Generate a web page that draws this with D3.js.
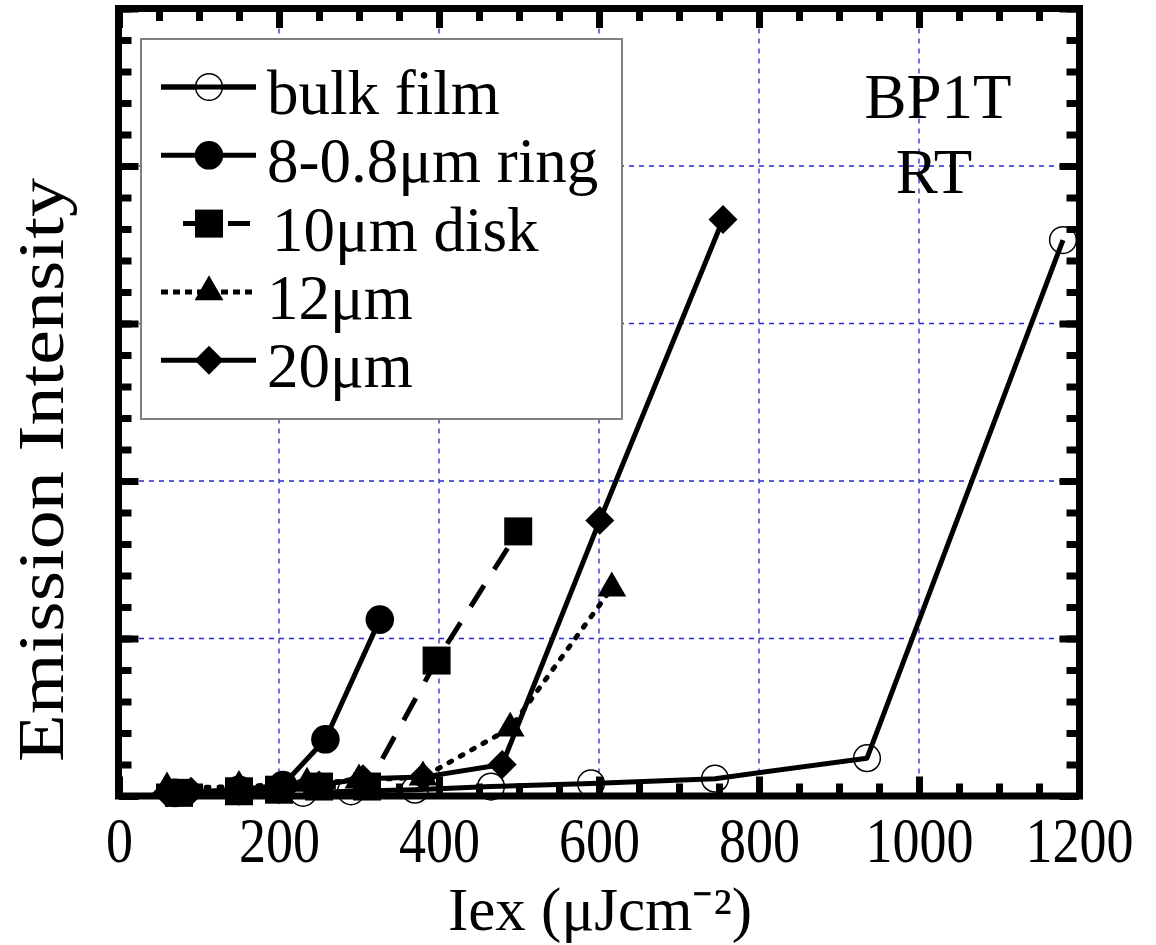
<!DOCTYPE html>
<html>
<head>
<meta charset="utf-8">
<script src="https://cdn.jsdelivr.net/npm/d3@7"></script>
<style>
  body { margin: 0; background: #fff; }
  svg { display: block; font-family: "Liberation Serif", "Times New Roman", serif; }
</style>
</head>
<body>
<svg id="chart" width="1156" height="945"></svg>
<script>
// excitation intensity (uJ/cm2) and emission intensity (arb. units)
var bulkX = [230, 290, 370, 465, 590, 745, 935, 1180]
var bulkY = [0.02, 0.03, 0.04, 0.06, 0.08, 0.11, 0.24, 3.53]

var ringX = [70, 150, 205, 258, 326]
var ringY = [0.02, 0.04, 0.07, 0.36, 1.12]

var diskX = [75, 150, 200, 250, 310, 397, 499]
var diskY = [0.02, 0.03, 0.04, 0.06, 0.06, 0.86, 1.68]

var d12X = [60, 150, 235, 300, 380, 489, 616]
var d12Y = [0.05, 0.06, 0.08, 0.10, 0.12, 0.43, 1.32]

var d20X = [60, 90, 150, 200, 250, 305, 380, 479, 601, 755]
var d20Y = [0.02, 0.03, 0.03, 0.04, 0.07, 0.11, 0.12, 0.20, 1.75, 3.66]

var legendNames = ["bulk film", "8-0.8\u03bcm ring", "10\u03bcm disk", "12\u03bcm", "20\u03bcm"]

var xTickLabels = [0, 200, 400, 600, 800, 1000, 1200]
var xGrid = [200, 400, 600, 800, 1000]
var yGrid = [1, 2, 3, 4]

var svg = d3.select("#chart")

var x = d3.scaleLinear().domain([0, 1200]).range([119, 1079])
var y = d3.scaleLinear().domain([0, 5]).range([796, 8.5])

// grid
var grid = svg.append("g")
grid.selectAll(".gx").data(xGrid).enter().append("line")
    .attr("x1", d => x(d)).attr("x2", d => x(d))
    .attr("y1", y(5)).attr("y2", y(0))
grid.selectAll(".gy").data(yGrid).enter().append("line")
    .attr("y1", d => y(d)).attr("y2", d => y(d))
    .attr("x1", x(0)).attr("x2", x(1200))
grid.selectAll("line")
    .attr("stroke", "#2424e0")
    .attr("stroke-width", 1.3)
    .attr("stroke-dasharray", "5,5")

// ticks on all four sides, pointing inward
var xMinor = d3.range(0, 1201, 50)
var yMinor = d3.range(0, 5.001, 0.2)
var yMajor = d3.range(0, 5.001, 1)

var axes = [
    [() => d3.axisBottom(x), "translate(0," + y(0) + ")", xMinor, xTickLabels],
    [() => d3.axisTop(x), "translate(0," + y(5) + ")", xMinor, xTickLabels],
    [() => d3.axisLeft(y), "translate(" + x(0) + ",0)", yMinor, yMajor],
    [() => d3.axisRight(y), "translate(" + x(1200) + ",0)", yMinor, yMajor]
]
axes.forEach(function (a) {
    var gMin = svg.append("g").attr("transform", a[1])
        .call(a[0]().tickValues(a[2]).tickSize(-12.5).tickFormat(""))
    var gMaj = svg.append("g").attr("transform", a[1])
        .call(a[0]().tickValues(a[3]).tickSize(-19.5).tickFormat(""))
    ;[gMin, gMaj].forEach(function (g) {
        g.select(".domain").remove()
        g.selectAll("line").attr("stroke", "#000").attr("stroke-width", 7)
    })
})

// frame
svg.append("rect")
    .attr("x", x(0) - 0.5).attr("y", y(5))
    .attr("width", x(1200) - x(0) + 1).attr("height", y(0) - y(5))
    .attr("fill", "none").attr("stroke", "#000").attr("stroke-width", 7)

// tick labels (narrow digits as in the original)
var xLab = svg.append("g")
    .attr("transform", "translate(0," + y(0) + ")")
    .call(d3.axisBottom(x).tickValues(xTickLabels).tickSize(0).tickPadding(21).tickFormat(d3.format("d")))
xLab.select(".domain").remove()
xLab.selectAll("text")
    .attr("font-size", 64)
    .attr("font-family", "Liberation Serif")
    .attr("fill", "#000")
    .attr("textLength", d => String(d).length * 27)
    .attr("lengthAdjust", "spacingAndGlyphs")

// series
var series = [
    { xs: bulkX, ys: bulkY, dash: null, cap: "butt", sym: d3.symbolCircle, size: 560, open: true, rot: 0 },
    { xs: ringX, ys: ringY, dash: null, cap: "butt", sym: d3.symbolCircle, size: 640, open: false, rot: 0 },
    { xs: diskX, ys: diskY, dash: "25,19", cap: "butt", sym: d3.symbolSquare, size: 784, open: false, rot: 0 },
    { xs: d12X, ys: d12Y, dash: "3,10", cap: "round", sym: d3.symbolTriangle, size: 360, open: false, rot: 0 },
    { xs: d20X, ys: d20Y, dash: null, cap: "butt", sym: d3.symbolSquare, size: 420, open: false, rot: 45 }
]

var line = d3.line().x(d => x(d[0])).y(d => y(d[1]))

series.forEach(function (s) {
    var pts = s.xs.map((v, i) => [v, s.ys[i]])
    var g = svg.append("g")
    g.append("path")
        .attr("d", line(pts))
        .attr("fill", "none")
        .attr("stroke", "#000")
        .attr("stroke-width", 5)
        .attr("stroke-linecap", s.cap)
        .attr("stroke-linejoin", "round")
        .attr("stroke-dasharray", s.dash)
    g.selectAll(".m").data(pts).enter().append("path")
        .attr("transform", d => "translate(" + x(d[0]) + "," + y(d[1]) + ") rotate(" + s.rot + ")")
        .attr("d", d3.symbol().type(s.sym).size(s.size))
        .attr("fill", s.open ? "none" : "#000")
        .attr("stroke", "#000")
        .attr("stroke-width", s.open ? 1.5 : 0)
})

// legend
var lg = svg.append("g")
lg.append("rect")
    .attr("x", 141).attr("y", 39).attr("width", 481).attr("height", 380)
    .attr("fill", "#fff").attr("stroke", "#808080").attr("stroke-width", 2)

series.forEach(function (s, i) {
    var ly = 87 + i * 68.3
    var x1 = 161, x2 = 256
    if (i == 2) { x1 = 183; x2 = 250 }
    lg.append("line")
        .attr("x1", x1).attr("x2", x2).attr("y1", ly).attr("y2", ly)
        .attr("stroke", "#000").attr("stroke-width", 5)
        .attr("stroke-dasharray", i == 2 ? "27,18" : (i == 3 ? "7,5" : null))
    lg.append("path")
        .attr("transform", "translate(" + 209 + "," + ly + ") rotate(" + s.rot + ")")
        .attr("d", d3.symbol().type(s.sym).size(s.size))
        .attr("fill", s.open ? "#fff" : "#000")
        .attr("stroke", "#000")
        .attr("stroke-width", s.open ? 1.5 : 0)
    lg.append("text")
        .attr("x", i == 2 ? 272 : 267).attr("y", ly + 27)
        .attr("font-size", 63)
        .text(legendNames[i])
})
// legend line passes through the open circle
lg.append("line").attr("x1", 161).attr("x2", 256).attr("y1", 87).attr("y2", 87)
    .attr("stroke", "#000").attr("stroke-width", 5)

// annotation
svg.append("text").attr("x", 938).attr("y", 118).attr("text-anchor", "middle")
    .attr("font-size", 63).text("BP1T")
svg.append("text").attr("x", 934).attr("y", 193).attr("text-anchor", "middle")
    .attr("font-size", 63).text("RT")

// axis titles
svg.append("text").attr("x", 600).attr("y", 930).attr("text-anchor", "middle")
    .attr("font-size", 61)
    .text("Iex (\u03bcJcm\u207b\u00b2)")

svg.append("text")
    .attr("transform", "translate(63,470) rotate(-90)")
    .attr("text-anchor", "middle")
    .attr("font-size", 66)
    .attr("textLength", 584)
    .attr("lengthAdjust", "spacingAndGlyphs")
    .text("Emission Intensity")
</script>
</body>
</html>
